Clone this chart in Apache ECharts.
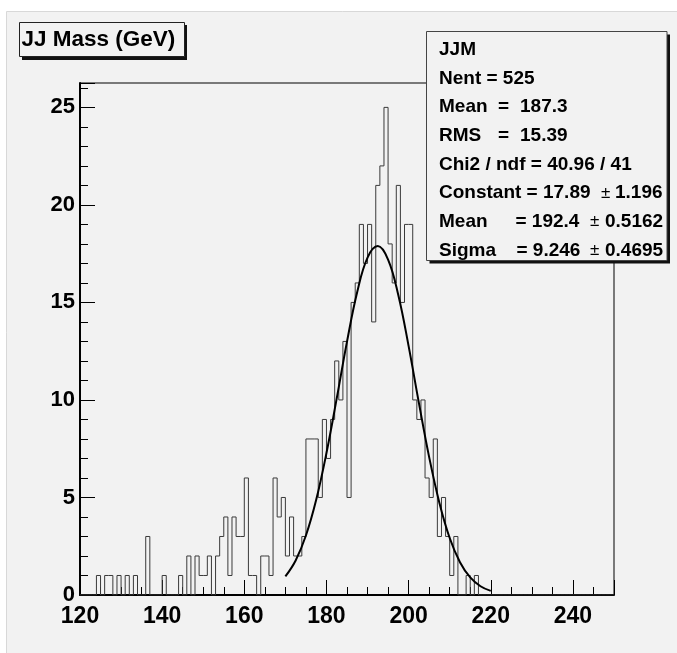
<!DOCTYPE html>
<html><head><meta charset="utf-8">
<script src="https://cdn.jsdelivr.net/npm/echarts@6/dist/echarts.min.js"></script>
<style>html,body{margin:0;padding:0;background:#fff}#c{width:677px;height:653px}</style>
</head><body><div id="c"></div>
<script>
// ---- data ----
const binLow = 120;      // low edge of first bin (GeV)
const binWidth = 1;      // bin width (GeV)
const counts = [
  0,0,0,0,1,0,1,1,0,1,      // 120-129
  0,1,0,1,0,0,3,0,0,0,      // 130-139
  1,0,0,0,1,0,2,0,2,1,      // 140-149
  1,2,0,2,3,4,1,4,3,3,      // 150-159
  6,1,1,0,2,2,1,6,4,5,      // 160-169
  2,4,2,2,3,8,8,8,5,9,      // 170-179
  7,9,12,10,13,5,15,16,19,17, // 180-189
  19,14,21,22,25,18,16,21,15,19, // 190-199
  19,10,9,10,6,5,8,3,5,3,   // 200-209
  1,3,0,0,1,0,1,0,0,0,      // 210-219
  0,0,0,0,0,0,0,0,0,0,      // 220-229
  0,0,0,0,0,0,0,0,0,0,      // 230-239
  0,0,0,0,0,0,0,0,0,0       // 240-249
];
const fitX = [170,172.5,175,177.5,180,182.5,185,187.5,190,192.5,195,197.5,200,202.5,205,207.5,210,212.5,215,217.5,220];
const fitY = [0.95,1.77,3.05,4.88,7.28,10.08,12.99,15.55,17.30,17.89,17.20,15.37,12.76,9.85,7.07,4.72,2.92,1.68,0.90,0.45,0.21];
const xTickLabels = [120,140,160,180,200,220,240];
const yTickLabels = [0,5,10,15,20,25];
const histTitle = 'JJ Mass (GeV)';
const statsRows = [
  ['JJM'],
  ['Nent = 525'],
  ['Mean', '=', '187.3'],
  ['RMS', '=', '15.39'],
  ['Chi2 / ndf = 40.96 / 41'],
  ['Constant = 17.89', '\u00b1', '1.196'],
  ['Mean', '= 192.4', '\u00b1', '0.5162'],
  ['Sigma', '= 9.246', '\u00b1', '0.4695']
];

// ---- build series data ----
const histPts = counts.map((c, i) => [binLow + i * binWidth, c]);
histPts.push([binLow + counts.length * binWidth, counts[counts.length - 1]]);
const fitPts = fitX.map((x, i) => [x, fitY[i]]);

// ---- layout / styles ----
const FONT = '"Liberation Sans", Arial, Helvetica, sans-serif';
const BG = '#f2f2f2';
const rowY = [50, 78.5, 107, 136, 164.5, 193, 221.5, 250.5];
const colX = [
  [439],
  [439],
  [439, 498, 520],
  [439, 498, 520],
  [439],
  [439, 601, 615],
  [439, 515.5, 590, 605],
  [439, 516.5, 590, 605]
];
const graphics = [
  {type:'rect', z:-100, silent:true, shape:{x:6.5, y:11.5, width:680, height:660},
   style:{fill:BG, stroke:'#d8d8d8', lineWidth:1}},
  // title box
  {type:'rect', z:100, shape:{x:22, y:25, width:165, height:35}, style:{fill:'#111'}},
  {type:'rect', z:101, shape:{x:19.5, y:22.5, width:165, height:34}, style:{fill:BG, stroke:'#222', lineWidth:1}},
  {type:'text', z:102, x:21.5, y:40, style:{text:histTitle, font:'bold 22.5px ' + FONT, fill:'#000',
    textVerticalAlign:'middle', verticalAlign:'middle'}},
  // stats box
  {type:'rect', z:100, shape:{x:429.5, y:34.5, width:240.5, height:229}, style:{fill:'#111'}},
  {type:'rect', z:101, shape:{x:426.5, y:31.5, width:240.5, height:229}, style:{fill:BG, stroke:'#444', lineWidth:1}}
];
statsRows.forEach((row, r) => {
  row.forEach((txt, k) => {
    graphics.push({type:'text', z:102, x:colX[r][k], y:rowY[r],
      style:{text:txt, font:(txt === '\u00b1' ? 'normal 17px ' : 'bold 19px ') + FONT, fill:'#000',
        textVerticalAlign:'middle', verticalAlign:'middle'}});
  });
});

const chart = echarts.init(document.getElementById('c'), null, {renderer:'canvas'});
chart.setOption({
  animation:false,
  backgroundColor:'#fff',
  grid:{left:80, right:63, top:83, bottom:58, show:true, borderColor:'#000', borderWidth:1, backgroundColor:'transparent'},
  xAxis:[
    {type:'value', min:120, max:250, interval:20, position:'bottom',
     axisLine:{show:true, onZero:false, lineStyle:{color:'#000', width:2}},
     axisTick:{show:true, inside:true, length:15, lineStyle:{color:'#000', width:1}},
     axisLabel:{show:true, margin:10, color:'#000', fontSize:23, fontWeight:'bold', fontFamily:FONT,
       formatter:v => xTickLabels.includes(v) ? String(v) : ''},
     splitLine:{show:false}},
    {type:'value', min:120, max:250, interval:5, position:'bottom',
     axisLine:{show:false, onZero:false},
     axisTick:{show:true, inside:true, length:8, lineStyle:{color:'#000', width:1}},
     axisLabel:{show:false}, splitLine:{show:false}}
  ],
  yAxis:[
    {type:'value', min:0, max:26.25, interval:5, position:'left',
     axisLine:{show:true, onZero:false, lineStyle:{color:'#000', width:2}},
     axisTick:{show:true, inside:true, length:15, lineStyle:{color:'#000', width:1}},
     axisLabel:{show:true, margin:5, color:'#000', fontSize:22, fontWeight:'bold', fontFamily:FONT,
       padding:[5,0,0,0],
       formatter:v => yTickLabels.includes(v) ? String(v) : ''},
     splitLine:{show:false}},
    {type:'value', min:0, max:26.25, interval:1, position:'left',
     axisLine:{show:false, onZero:false},
     axisTick:{show:true, inside:true, length:8, lineStyle:{color:'#000', width:1}},
     axisLabel:{show:false}, splitLine:{show:false}}
  ],
  series:[
    {type:'line', name:'JJM', data:histPts, step:'end', xAxisIndex:0, yAxisIndex:0,
     showSymbol:false, symbol:'none', lineStyle:{color:'#3a3a3a', width:1}, z:2, silent:true},
    {type:'line', name:'fit', data:fitPts, smooth:0.4, xAxisIndex:0, yAxisIndex:0,
     showSymbol:false, symbol:'none', lineStyle:{color:'#000', width:2}, z:3, silent:true}
  ],
  graphic:{elements:graphics}
});
</script></body></html>
